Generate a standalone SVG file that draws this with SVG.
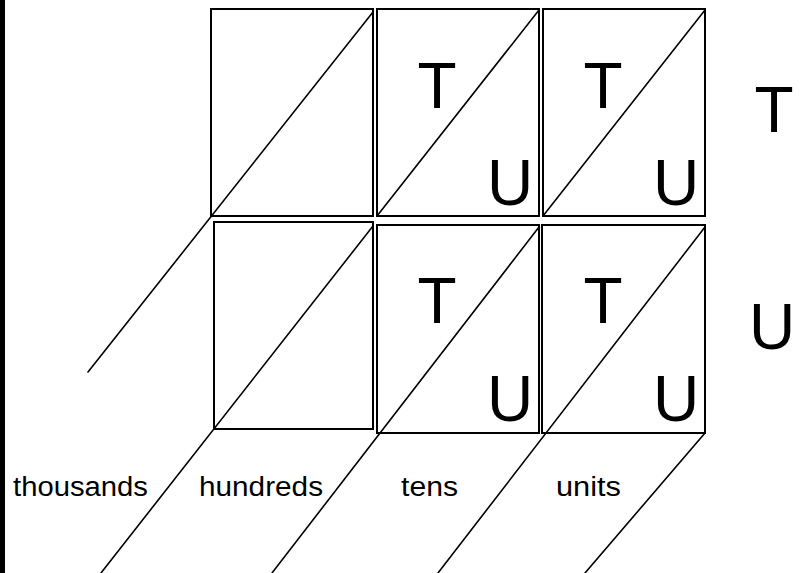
<svg xmlns="http://www.w3.org/2000/svg" width="807" height="573" viewBox="0 0 807 573">
<style>
.box{fill:#fff;stroke:#000;stroke-width:2}
.ln{stroke:#000;stroke-width:1.6;fill:none;stroke-linecap:round}
.big{font-family:"Comic Sans MS","Liberation Sans",sans-serif;font-size:64px;text-anchor:middle;fill:#000}
.lbl{font-family:"Comic Sans MS","Liberation Sans",sans-serif;font-size:27px;fill:#000}
</style>
<rect x="0" y="0" width="807" height="573" fill="#fff"/>
<rect x="0" y="0" width="5" height="573" fill="#000"/>
<g id="box-top-hundreds"><rect class="box" x="211" y="9" width="162" height="207"/></g>
<g id="box-top-tens"><rect class="box" x="377" y="9" width="162" height="207"/>
<text class="big" x="437" y="108">T</text><text class="big" x="510" y="205">U</text></g>
<g id="box-top-units"><rect class="box" x="543" y="9" width="162" height="207"/>
<text class="big" x="603" y="108">T</text><text class="big" x="676" y="205">U</text></g>
<g id="box-bot-hundreds"><rect class="box" x="214" y="222" width="159" height="207"/></g>
<g id="box-bot-tens"><rect class="box" x="377" y="225" width="162" height="208"/>
<text class="big" x="437" y="323">T</text><text class="big" x="510" y="421">U</text></g>
<g id="box-bot-units"><rect class="box" x="542" y="225" width="163" height="208"/>
<text class="big" x="603" y="323">T</text><text class="big" x="676" y="421">U</text></g>
<g id="connectors">
<line class="ln" x1="373" y1="12" x2="88" y2="372"/>
<line class="ln" x1="539" y1="10" x2="377" y2="216"/>
<line class="ln" x1="705" y1="10" x2="543" y2="216"/>
<line class="ln" x1="373" y1="226" x2="101" y2="573"/>
<line class="ln" x1="539" y1="227" x2="272" y2="573"/>
<line class="ln" x1="705" y1="227" x2="438" y2="573"/>
<line class="ln" x1="705" y1="433" x2="585" y2="573"/>
</g>
<g id="row-labels">
<text class="big" x="774" y="132">T</text>
<text class="big" x="772" y="349">U</text>
</g>
<g id="column-labels">
<text class="lbl" x="13" y="496" textLength="135" lengthAdjust="spacingAndGlyphs">thousands</text>
<text class="lbl" x="199" y="496" textLength="124" lengthAdjust="spacingAndGlyphs">hundreds</text>
<text class="lbl" x="401" y="496" textLength="57" lengthAdjust="spacingAndGlyphs">tens</text>
<text class="lbl" x="556" y="496" textLength="65" lengthAdjust="spacingAndGlyphs">units</text>
</g>
</svg>
